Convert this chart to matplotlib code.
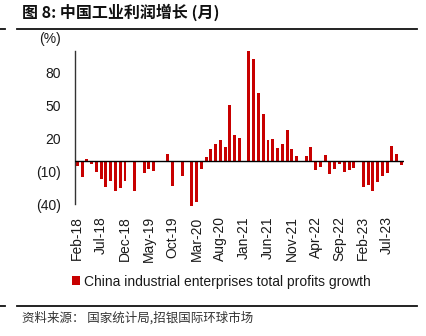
import numpy as np
import matplotlib
matplotlib.use("Agg")
import matplotlib.pyplot as plt
from matplotlib.lines import Line2D

plt.rcParams['font.family'] = ['Liberation Sans', 'Noto Sans CJK SC', 'DejaVu Sans']

# Monthly profit growth (%), Feb-18 .. Oct-23; January slots are blank
months = ["Feb-18", "Mar-18", "Apr-18", "May-18", "Jun-18", "Jul-18", "Aug-18", "Sep-18",
          "Oct-18", "Nov-18", "Dec-18", "Jan-19",
          "Feb-19", "Mar-19", "Apr-19", "May-19", "Jun-19", "Jul-19", "Aug-19", "Sep-19",
          "Oct-19", "Nov-19", "Dec-19", "Jan-20",
          "Feb-20", "Mar-20", "Apr-20", "May-20", "Jun-20", "Jul-20", "Aug-20", "Sep-20",
          "Oct-20", "Nov-20", "Dec-20", "Jan-21",
          "Feb-21", "Mar-21", "Apr-21", "May-21", "Jun-21", "Jul-21", "Aug-21", "Sep-21",
          "Oct-21", "Nov-21", "Dec-21", "Jan-22",
          "Feb-22", "Mar-22", "Apr-22", "May-22", "Jun-22", "Jul-22", "Aug-22", "Sep-22",
          "Oct-22", "Nov-22", "Dec-22", "Jan-23",
          "Feb-23", "Mar-23", "Apr-23", "May-23", "Jun-23", "Jul-23", "Aug-23", "Sep-23",
          "Oct-23"]
growth = [-5.0, -15.3, 1.0, -3.6, -10.0, -16.5, -23.7, -18.3, -27.3, -25.2, -18.3, np.nan,
          -27.9, -0.5, -11.1, -7.5, -9.3, -0.5, -0.5, 5.7, -22.8, -0.5, -14.4, np.nan,
          -41.5, -38.1, -7.8, 3.0, 10.8, 15.3, 18.5, 12.2, 50.9, 23.4, 20.3, np.nan,
          100.0, 92.5, 61.1, 42.8, 19.1, 19.6, 11.4, 15.0, 27.8, 10.8, 3.9, np.nan,
          3.9, 12.2, -9.0, -6.3, 4.8, -12.0, -7.5, -3.3, -10.8, -8.7, -7.2, np.nan,
          -24.0, -22.2, -27.3, -19.5, -13.8, -11.4, 12.8, 5.9, -4.5]
tick_labels = ["Feb-18", "Jul-18", "Dec-18", "May-19", "Oct-19", "Mar-20", "Aug-20",
               "Jan-21", "Jun-21", "Nov-21", "Apr-22", "Sep-22", "Feb-23", "Jul-23"]
y_ticks = [-40, -10, 20, 50, 80]
y_tick_labels = ["(40)", "(10)", "20", "50", "80"]

bar_color = "#C80000"
text_color = "#1a1a1a"

fig = plt.figure(figsize=(4.26, 3.36), dpi=100)
ax = fig.add_axes([0.176, 0.385, 0.772, 0.464])

x = np.arange(len(months))
ax.bar(x, np.nan_to_num(growth), width=0.62, color=bar_color, zorder=2,
       label="China industrial enterprises total profits growth")
ax.axhline(0, color="black", lw=1.0, zorder=3)

ax.set_xlim(-0.5, len(months) - 0.5)
ax.set_ylim(-42, 100)
ax.set_yticks(y_ticks)
ax.set_yticklabels(y_tick_labels)
ax.set_xticks([months.index(m) for m in tick_labels])
ax.set_xticklabels(tick_labels, rotation=90)
ax.tick_params(axis="y", length=0, pad=10, labelsize=10, labelcolor=text_color)
ax.tick_params(axis="x", length=0, pad=7, labelsize=10, labelcolor=text_color)

for side in ["top", "right", "bottom"]:
    ax.spines[side].set_visible(False)
ax.spines["left"].set_bounds(-40, 100)
ax.spines["left"].set_color("#333333")
ax.spines["left"].set_linewidth(1.0)

ax.text(-0.075, 1.03, "(%)", transform=ax.transAxes, ha="center", va="bottom",
        fontsize=10, color=text_color)

fig.legend(loc="center", bbox_to_anchor=(0.52, 0.162), frameon=False, fontsize=10,
           handlelength=0.55, handleheight=0.55, handletextpad=0.3, labelcolor=text_color)

# Header and footer rules
fig.text(0.052, 0.962, "图 8: 中国工业利润增长 (月)", fontsize=11.5, fontweight="bold",
         family=["Noto Sans CJK SC", "DejaVu Sans"], color="#111111", va="center")
fig.add_artist(Line2D([0.04, 0.979], [0.913, 0.913], color="#111111", lw=1.3))
fig.add_artist(Line2D([0.0, 0.012], [0.913, 0.913], color="#111111", lw=1.3))
fig.add_artist(Line2D([0.04, 0.979], [0.089, 0.089], color="#111111", lw=1.3))
fig.add_artist(Line2D([0.0, 0.012], [0.089, 0.089], color="#111111", lw=1.3))
fig.text(0.052, 0.053, "资料来源： 国家统计局,招银国际环球市场", fontsize=9,
         family=["Noto Sans CJK SC", "DejaVu Sans"], color="#333333", va="center")

fig.savefig("out.png", dpi=100)
